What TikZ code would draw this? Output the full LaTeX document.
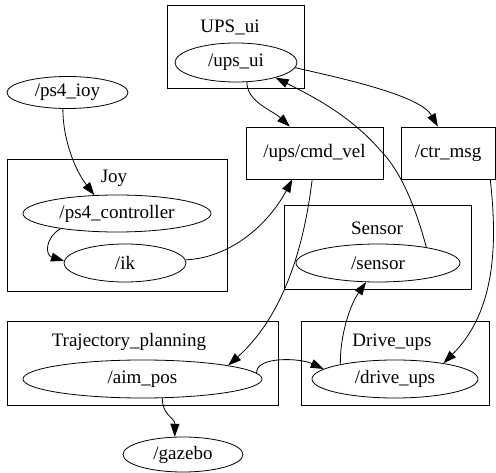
\documentclass[tikz,border=0pt]{standalone}
\usepackage{fontspec}
\setmainfont{Liberation Serif}
\usetikzlibrary{shapes.geometric,arrows.meta}
\tikzset{
  every node/.style={font=\fontsize{19}{22}\selectfont},
  ell/.style={draw, ellipse, inner sep=0pt, line width=0.8pt},
  topic/.style={draw, rectangle, inner sep=0pt, line width=0.8pt},
  cluster/.style={draw, rectangle, inner sep=0pt, line width=0.8pt},
  lbl/.style={inner sep=0pt},
  edge/.style={line width=0.8pt, -{Triangle[length=13pt,width=9pt]}},
}
\begin{document}
\begin{tikzpicture}[x=1pt,y=-1pt]
\useasboundingbox (0,0) rectangle (496,473);
% clusters
\node[cluster, minimum width=137pt, minimum height=83pt] (cUPS) at (235.5,46.5) {};
\node[lbl] (lUPS) at (230,27) {UPS\_ui};
\node[cluster, minimum width=220pt, minimum height=132pt] (cJoy) at (117,225) {};
\node[lbl] (lJoy) at (114,178) {Joy};
\node[cluster, minimum width=187pt, minimum height=84pt] (cSen) at (377.5,247) {};
\node[lbl] (lSen) at (377,228) {Sensor};
\node[cluster, minimum width=271pt, minimum height=84pt] (cTra) at (142.5,363) {};
\node[lbl] (lTra) at (129,342) {Trajectory\_planning};
\node[cluster, minimum width=188pt, minimum height=84pt] (cDri) at (395,363) {};
\node[lbl] (lDri) at (392,342) {Drive\_ups};
% nodes
\node[ell, minimum width=122pt, minimum height=39pt] (upsui) at (236,62.5) {/ups\_ui};
\node[ell, minimum width=121pt, minimum height=32pt] (ps4ioy) at (67.5,92.5) {/ps4\_ioy};
\node[ell, minimum width=188pt, minimum height=37pt] (ps4ctl) at (117,213.5) {/ps4\_controller};
\node[ell, minimum width=122pt, minimum height=38pt] (ik) at (125,263) {/ik};
\node[topic, minimum width=137pt, minimum height=52pt] (cmdvel) at (314.5,153) {/ups/cmd\_vel};
\node[topic, minimum width=94pt, minimum height=52pt] (ctrmsg) at (448,153) {/ctr\_msg};
\node[ell, minimum width=164pt, minimum height=38pt] (sensor) at (378,263) {/sensor};
\node[ell, minimum width=239pt, minimum height=38pt] (aimpos) at (142.5,379) {/aim\_pos};
\node[ell, minimum width=166pt, minimum height=38pt] (driveups) at (395,379) {/drive\_ups};
\node[ell, minimum width=120pt, minimum height=35pt] (gazebo) at (183,454.5) {/gazebo};
% edges
\draw[edge] (ps4ioy.-106) .. controls (63,140) and (75,170) .. (ps4ctl.141);
\draw[edge] (ps4ctl.-165) .. controls (45,238) and (45,255) .. (ik.178);
\draw[edge] (ik.3) .. controls (230,258) and (268,225) .. (cmdvel.-130);
\draw[edge] (upsui.-61) .. controls (247,102) and (272,110) .. (cmdvel.133);
\draw[edge] (upsui.-5) .. controls (340,78) and (420,95) .. (ctrmsg.111);
\draw[edge] (sensor.18) .. controls (415,205) and (400,170) .. (380,150) .. controls (350,115) and (310,95) .. (upsui.-21);
\draw[edge] (cmdvel.-95) .. controls (306,230) and (290,310) .. (aimpos.9);
\draw[edge] (ctrmsg.-32) .. controls (497,240) and (497,310) .. (driveups.18);
\draw[edge] (driveups.165) .. controls (340,335) and (350,305) .. (sensor.-122);
\draw[edge] (aimpos.3.5) .. controls (256,356) and (300,358) .. (driveups.172);
\draw[edge] (aimpos.-44) .. controls (162,415) and (175,418) .. (gazebo.115);
\end{tikzpicture}
\end{document}
